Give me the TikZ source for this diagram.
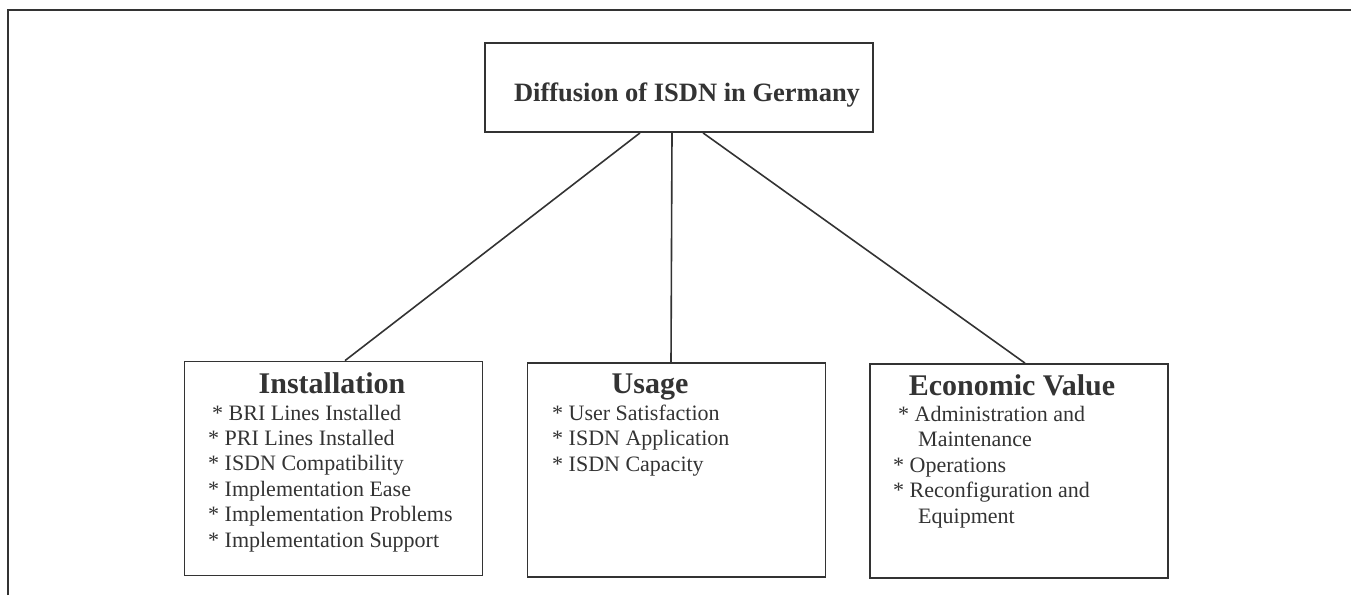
\documentclass[tikz,border=0pt]{standalone}
\usepackage{fontspec}
\setmainfont{Liberation Serif}
\usetikzlibrary{positioning}

\definecolor{ink}{gray}{0.2}

\begin{document}
\begin{tikzpicture}[
   x=1pt, y=-1pt,
   box/.style={
     draw=ink,
     line width=1.8pt,
     inner sep=0pt,
     minimum width=298pt,
     minimum height=214pt,
    },
   head/.style={
     text=ink,
     inner sep=0pt,
     anchor=base,
     font=\fontsize{30}{34}\selectfont\bfseries,
    },
   % base of a multi-line list sits on its last line
   list/.style={
     text=ink,
     inner sep=0pt,
     anchor=base west,
     align=left,
     font=\fontsize{22}{25.4}\selectfont,
    },
   link/.style={
     draw=ink,
     line width=1.6pt,
    },
  ]

\useasboundingbox (0,0) rectangle (1351,595);
\draw[ink, line width=1.8pt] (8,595) |- (1351,10);

% top box
\node[box, minimum width=388pt, minimum height=89pt] (title) at (679,87.5) {};
\node[text=ink, inner sep=0pt, anchor=base,
      font=\fontsize{26.5}{30}\selectfont\bfseries] (title-text) at (687,101)
  {Diffusion of ISDN in Germany};

% the three branches
\node[box] (inst) at (333.5,468.5) {};
\node[head] (inst-head) at (332,393) {Installation};
\node[list] (inst-list) at (208,547) {\hspace{4pt}* BRI Lines Installed\\
  * PRI Lines Installed\\
  * ISDN Compatibility\\
  * Implementation Ease\\
  * Implementation Problems\\
  * Implementation Support};

\node[box] (usage) at (676.5,470) {};
\node[head] (usage-head) at (650,393) {Usage};
\node[list] (usage-list) at (552,471) {* User Satisfaction\\
  * ISDN Application\\
  * ISDN Capacity};

\node[box] (econ) at (1019,471) {};
\node[head] (econ-head) at (1012,395) {Economic Value};
\node[list] (econ-list) at (893,523) {\hspace{5pt}* Administration and\\
  \hspace{25pt}Maintenance\\
  * Operations\\
  * Reconfiguration and\\
  \hspace{25pt}Equipment};

\draw[link] ([xshift=-39pt]title.south) -- ([xshift=11.5pt]inst.north);
\draw[link] ([xshift=-7pt]title.south) -- ([xshift=-5.5pt]usage.north);
\draw[link] ([xshift=24pt]title.south) -- ([xshift=6pt]econ.north);
\end{tikzpicture}
\end{document}
